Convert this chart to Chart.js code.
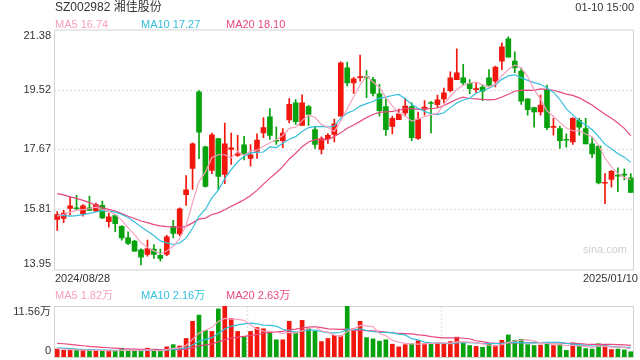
<!DOCTYPE html>
<html>
<head>
<meta charset="utf-8">
<script src="https://cdn.jsdelivr.net/npm/chart.js@4/dist/chart.umd.min.js"></script>
<style>
  html, body { margin: 0; padding: 0; background: #fff; }
  #wrap { position: relative; width: 640px; height: 360px; overflow: hidden;
          font-family: "Liberation Sans", Arial, "Noto Sans CJK SC", sans-serif; }
  canvas { position: absolute; left: 0; top: 0; }
  .t { position: absolute; white-space: nowrap; line-height: 12px; font-size: 11px; }
</style>
</head>
<body>
<div id="wrap">
  <canvas id="price" width="640" height="360"></canvas>
  <canvas id="vol" width="640" height="360"></canvas>
  <div class="t" style="left:55px;top:1px;font-size:12px;line-height:13px;color:#333">SZ002982 湘佳股份</div>
  <div class="t" style="right:6px;top:1px;color:#333">01-10 15:00</div>
  <div class="t" style="left:55px;top:18px;color:#f7a1c0">MA5 16.74</div>
  <div class="t" style="left:141px;top:18px;color:#34bfdc">MA10 17.27</div>
  <div class="t" style="left:226px;top:18px;color:#e8497e">MA20 18.10</div>
  <div class="t" style="left:55px;top:272px;color:#333">2024/08/28</div>
  <div class="t" style="right:2px;top:272px;color:#333">2025/01/10</div>
  <div class="t" style="left:55px;top:289px;color:#f7a1c0">MA5 1.82万</div>
  <div class="t" style="left:141px;top:289px;color:#34bfdc">MA10 2.16万</div>
  <div class="t" style="left:226px;top:289px;color:#e8497e">MA20 2.63万</div>
  <div class="t" style="left:583px;top:243px;color:#cfcfcf;font-size:11px">sina.com</div>
</div>
<script>
// trading days
const dates = [
  '2024-08-28','2024-08-29','2024-08-30',
  '2024-09-02','2024-09-03','2024-09-04','2024-09-05','2024-09-06','2024-09-09','2024-09-10','2024-09-11','2024-09-12','2024-09-13',
  '2024-09-18','2024-09-19','2024-09-20','2024-09-23','2024-09-24','2024-09-25','2024-09-26','2024-09-27','2024-09-30',
  '2024-10-08','2024-10-09','2024-10-10','2024-10-11','2024-10-14','2024-10-15','2024-10-16','2024-10-17','2024-10-18',
  '2024-10-21','2024-10-22','2024-10-23','2024-10-24','2024-10-25','2024-10-28','2024-10-29','2024-10-30','2024-10-31',
  '2024-11-01','2024-11-04','2024-11-05','2024-11-06','2024-11-07','2024-11-08','2024-11-11','2024-11-12','2024-11-13','2024-11-14',
  '2024-11-15','2024-11-18','2024-11-19','2024-11-20','2024-11-21','2024-11-22','2024-11-25','2024-11-26','2024-11-27','2024-11-28','2024-11-29',
  '2024-12-02','2024-12-03','2024-12-04','2024-12-05','2024-12-06','2024-12-09','2024-12-10','2024-12-11','2024-12-12','2024-12-13',
  '2024-12-16','2024-12-17','2024-12-18','2024-12-19','2024-12-20','2024-12-23','2024-12-24','2024-12-25','2024-12-26','2024-12-27',
  '2024-12-30','2024-12-31',
  '2025-01-02','2025-01-03','2025-01-06','2025-01-07','2025-01-08','2025-01-09','2025-01-10'
];
const opens = [15.50,15.53,15.84,15.86,15.67,15.86,15.76,15.94,15.43,15.62,
  15.29,14.93,14.83,14.56,14.42,14.58,14.39,14.42,15.29,15.05,
  16.27,17.08,19.45,17.75,17.02,18.00,16.89,17.67,17.48,17.81,
  17.39,17.61,18.18,18.68,17.95,17.94,18.58,19.11,18.41,18.99,
  18.28,17.67,18.00,18.13,18.70,20.19,19.73,19.89,19.92,19.83,
  19.39,18.99,18.38,18.59,18.80,18.99,18.01,18.91,19.11,19.05,
  19.23,19.49,19.83,19.88,19.71,19.52,19.60,19.88,19.78,20.40,
  21.09,20.40,20.09,19.23,18.96,18.83,19.52,18.35,18.31,17.98,
  17.90,18.57,18.31,17.84,17.77,16.62,16.74,16.87,16.89,16.79];
const closes = [15.65,15.70,15.92,15.83,15.92,15.78,15.96,15.55,15.58,15.37,
  14.93,14.76,14.52,14.33,14.60,14.42,14.29,14.96,15.07,15.83,
  16.42,17.84,18.20,16.52,18.12,16.83,17.84,17.72,17.53,17.51,
  17.50,17.96,18.34,18.10,17.92,18.17,19.06,18.53,19.11,18.75,
  17.82,18.00,18.10,18.46,20.35,19.73,19.85,19.92,19.88,19.40,
  18.87,18.28,18.63,18.77,19.01,18.03,18.61,18.98,19.09,19.20,
  19.42,19.88,20.04,19.73,19.55,19.55,19.47,19.66,20.22,20.84,
  20.52,20.19,19.16,18.90,18.83,19.04,18.34,18.37,17.94,17.95,
  18.63,18.36,17.84,17.53,16.63,16.64,16.99,16.84,16.87,16.34];
const highs = [15.74,15.78,16.19,16.25,15.96,16.22,16.01,16.07,15.70,15.65,
  15.31,15.12,14.85,14.59,14.86,14.72,14.58,15.01,15.47,15.86,
  16.86,17.87,19.49,17.77,18.17,18.00,18.48,18.17,18.10,18.07,
  17.82,18.15,18.65,18.93,18.37,18.31,19.24,19.21,19.36,19.03,
  18.39,18.06,18.16,18.61,20.38,20.37,19.90,20.59,20.11,19.90,
  19.68,19.24,18.69,18.92,19.24,19.11,18.82,19.18,19.16,19.35,
  19.57,20.07,20.78,20.30,19.83,19.73,19.66,20.14,20.25,20.97,
  21.15,20.69,20.19,19.23,18.98,19.35,19.66,18.63,18.39,18.15,
  18.65,18.63,18.63,18.03,17.77,16.92,17.02,17.10,17.07,16.92];
const lows = [15.16,15.40,15.63,15.78,15.60,15.78,15.74,15.52,15.26,15.12,
  14.86,14.72,14.51,14.09,14.36,14.29,14.21,14.38,14.93,15.00,
  15.93,16.43,17.38,16.50,16.92,16.41,16.61,17.20,17.45,17.34,
  17.15,17.39,18.03,17.98,17.82,17.72,18.49,18.44,18.41,18.41,
  17.70,17.53,17.85,17.90,18.70,19.63,19.40,19.78,19.27,19.32,
  18.70,18.10,18.15,18.59,18.70,17.94,17.98,18.73,18.18,18.96,
  19.11,19.45,19.83,19.66,19.39,19.42,19.18,19.63,19.60,20.14,
  20.52,20.04,19.06,18.73,18.36,18.73,18.28,18.11,17.70,17.74,
  17.82,18.11,17.84,17.41,16.60,15.99,16.50,16.36,16.72,16.34];
// volume, 万手
const volumes = [1.8,1.5,1.5,1.6,1.5,1.5,1.4,1.5,1.3,1.4,
  2.0,1.4,1.3,1.3,2.0,1.4,1.3,2.3,2.8,2.5,
  4.2,8.1,9.5,6.0,5.8,10.9,11.5,8.7,5.8,4.6,
  5.8,6.7,6.4,5.6,3.9,3.9,8.1,5.6,8.3,6.4,
  5.8,3.5,4.2,4.9,4.8,11.56,6.4,8.1,4.4,4.1,
  3.6,3.9,2.9,2.3,2.8,3.0,3.7,3.0,3.0,3.2,
  3.0,3.5,4.5,3.2,2.6,2.4,2.2,3.0,2.5,3.8,
  5.0,3.8,4.0,2.8,2.6,2.7,3.2,2.6,2.8,1.5,
  3.2,2.6,1.9,1.8,3.0,2.8,1.7,1.8,1.6,1.2];
// MA values before a full window is available
const ma5Head = [15.60,15.66,15.72,15.78];
const ma10Head = [15.63,15.62,15.60,15.62,15.65,15.69,15.73,15.77,15.76];
const ma20Head = [16.30,16.26,16.20,16.15,16.09,16.02,15.94,15.86,15.81,15.76,
  15.68,15.60,15.53,15.45,15.40,15.34,15.30,15.28,15.27];
const vma5Head = [1.9,1.8,1.7,1.6];
const vma10Head = [2.1,2.0,1.9,1.8,1.7,1.65,1.6,1.58,1.55];
const vma20Head = [3.1,3.0,2.85,2.7,2.55,2.4,2.3,2.2,2.1,2.0,1.9,1.85,1.8,1.75,1.75,1.72,1.7,1.7,1.7];
const priceTicks = [21.38, 19.52, 17.67, 15.81, 13.95];
const volMax = 11.56;
const volTickLabels = ['11.56万', '0'];

const RED = '#f2170c', GREEN = '#07a20d';
const C5 = '#f7a1c0', C10 = '#34bfdc', C20 = '#e8497e';

function movingAvg(values, n, head) {
  return values.map((v, i) => {
    if (i < n - 1) return head[i];
    let s = 0;
    for (let k = i - n + 1; k <= i; k++) s += values[k];
    return s / n;
  });
}

const up = closes.map((c, i) => c >= opens[i]);
const candleColors = up.map(u => u ? RED : GREEN);
const FONT = '11px "Liberation Sans", Arial, "Noto Sans CJK SC", sans-serif';

const framePlugin = {
  id: 'frame',
  beforeDatasetsDraw(chart, args, opts) {
    const { ctx, chartArea: a, scales: { y } } = chart;
    ctx.save();
    ctx.lineWidth = 1.5;
    ctx.strokeStyle = '#e4e4e4';
    ctx.setLineDash([2, 2]);
    (opts.hgrid || []).forEach(v => {
      const py = Math.round(y.getPixelForValue(v)) + 0.5;
      ctx.beginPath(); ctx.moveTo(a.left, py); ctx.lineTo(a.right, py); ctx.stroke();
    });
    (opts.vgrid || []).forEach(f => {
      const px = Math.round(a.left + (a.right - a.left) * f) + 0.5;
      ctx.beginPath(); ctx.moveTo(px, a.top); ctx.lineTo(px, a.bottom); ctx.stroke();
    });
    ctx.setLineDash([]);
    ctx.lineWidth = 1;
    ctx.strokeStyle = '#d3d3d3';
    ctx.strokeRect(a.left + 0.5, a.top + 0.5, a.right - a.left - 1, a.bottom - a.top);
    // axis labels
    ctx.fillStyle = '#333';
    ctx.font = FONT;
    ctx.textAlign = 'right';
    ctx.textBaseline = 'middle';
    opts.labels.forEach((lab, i) => {
      let py = y.getPixelForValue(opts.values[i]);
      if (i === 0) py += 6;
      if (i === opts.labels.length - 1) py -= 6;
      ctx.fillText(lab, a.left - 3, py);
    });
    ctx.restore();
  }
};

new Chart(document.getElementById('price'), {
  type: 'bar',
  data: {
    labels: dates,
    datasets: [
      { type: 'line', data: movingAvg(closes, 5, ma5Head), borderColor: C5, borderWidth: 1.2, pointRadius: 0 },
      { type: 'line', data: movingAvg(closes, 10, ma10Head), borderColor: C10, borderWidth: 1.2, pointRadius: 0 },
      { type: 'line', data: movingAvg(closes, 20, ma20Head), borderColor: C20, borderWidth: 1.2, pointRadius: 0 },
      { data: opens.map((o, i) => [o, closes[i]]), backgroundColor: candleColors,
        barThickness: 5, grouped: false, minBarLength: 1 },
      { data: lows.map((l, i) => [l, highs[i]]), backgroundColor: candleColors,
        barThickness: 1, grouped: false }
    ]
  },
  options: {
    responsive: false, animation: false, events: [],
    layout: { padding: { left: 54, right: 6, top: 29.5, bottom: 90.5 } },
    scales: {
      x: { display: false, offset: true },
      y: { display: false, min: 13.95, max: 21.38 }
    },
    plugins: {
      legend: { display: false }, tooltip: { enabled: false },
      frame: { hgrid: priceTicks.slice(1, -1), labels: priceTicks.map(v => v.toFixed(2)), values: priceTicks }
    }
  },
  plugins: [framePlugin]
});

new Chart(document.getElementById('vol'), {
  type: 'bar',
  data: {
    labels: dates,
    datasets: [
      { type: 'line', data: movingAvg(volumes, 5, vma5Head), borderColor: C5, borderWidth: 1.2, pointRadius: 0 },
      { type: 'line', data: movingAvg(volumes, 10, vma10Head), borderColor: C10, borderWidth: 1.2, pointRadius: 0 },
      { type: 'line', data: movingAvg(volumes, 20, vma20Head), borderColor: C20, borderWidth: 1.2, pointRadius: 0 },
      { data: volumes, backgroundColor: candleColors, barThickness: 4, grouped: false }
    ]
  },
  options: {
    responsive: false, animation: false, events: [],
    layout: { padding: { left: 54, right: 6, top: 306, bottom: 3 } },
    scales: {
      x: { display: false, offset: true },
      y: { display: false, min: 0, max: volMax }
    },
    plugins: {
      legend: { display: false }, tooltip: { enabled: false },
      frame: { vgrid: [1 / 3, 2 / 3], labels: volTickLabels, values: [volMax, 0] }
    }
  },
  plugins: [framePlugin]
});
</script>
</body>
</html>
